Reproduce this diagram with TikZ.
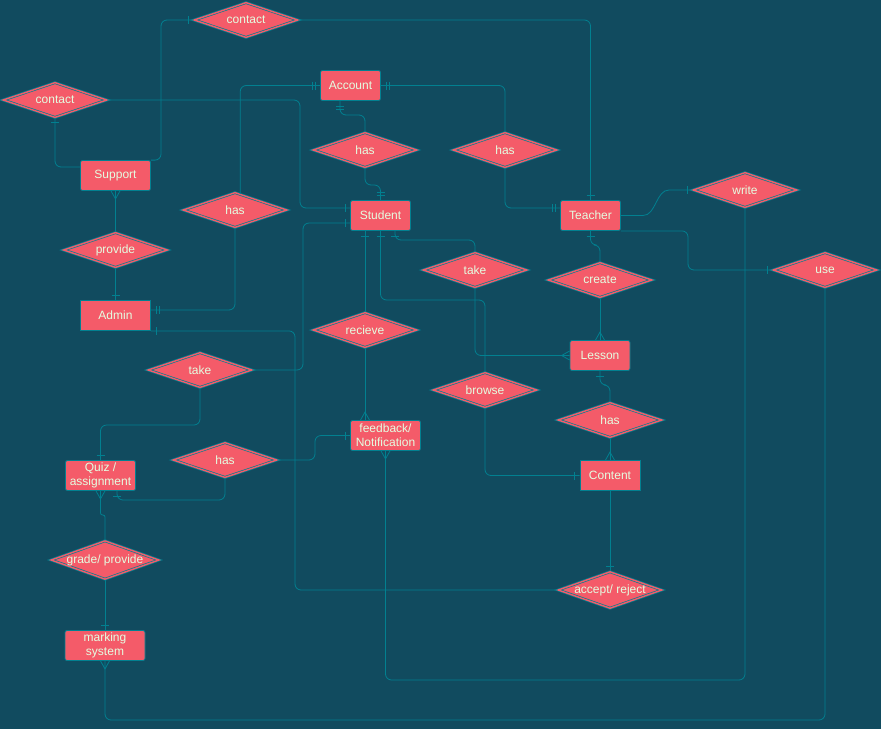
\documentclass[tikz,border=0pt]{standalone}
\usepackage{fontspec}
\setmainfont{Liberation Sans}
\usetikzlibrary{shapes.geometric, decorations.markings}

\definecolor{oceanbg}{HTML}{114B5F}
\definecolor{oceanfill}{HTML}{F45B69}
\definecolor{oceanline}{HTML}{028090}
\definecolor{oceantext}{HTML}{E4FDE1}

\tikzset{
  entity/.style={rectangle, rounded corners=2pt, draw=oceanline, line width=0.8pt, fill=oceanfill,
    text=oceantext, minimum width=60pt, minimum height=30pt, inner sep=2pt, align=center,
    font=\fontsize{12}{14}\selectfont},
  relation/.style={diamond, aspect=2.8, draw=oceanline, line width=0.7pt, double=oceanfill,
    double distance=1.4pt, fill=oceanfill, text=oceantext, minimum width=104pt,
    minimum height=35pt, inner sep=0pt, font=\fontsize{12}{14}\selectfont},
  link/.style={draw=oceanline, line width=0.8pt, rounded corners=6pt},
  tipline/.style={draw=oceanline, line width=0.8pt, sharp corners},
  oneend/.style={postaction={decorate, decoration={markings,
    mark=at position 1 with {\draw[tipline] (-5pt,-4pt) -- (-5pt,4pt);}}}},
  onestart/.style={postaction={decorate, decoration={markings,
    mark=at position 0 with {\draw[tipline] (5pt,-4pt) -- (5pt,4pt);}}}},
  twoend/.style={postaction={decorate, decoration={markings,
    mark=at position 1 with {\draw[tipline] (-5pt,-4pt) -- (-5pt,4pt) (-8pt,-4pt) -- (-8pt,4pt);}}}},
  twostart/.style={postaction={decorate, decoration={markings,
    mark=at position 0 with {\draw[tipline] (5pt,-4pt) -- (5pt,4pt) (8pt,-4pt) -- (8pt,4pt);}}}},
  manyend/.style={postaction={decorate, decoration={markings,
    mark=at position 1 with {\draw[tipline] (0pt,4.5pt) -- (-8pt,0pt) -- (0pt,-4.5pt);}}}},
  manystart/.style={postaction={decorate, decoration={markings,
    mark=at position 0 with {\draw[tipline] (0pt,4.5pt) -- (8pt,0pt) -- (0pt,-4.5pt);}}}}
}

\begin{document}
\begin{tikzpicture}[x=1pt, y=-1pt]
\fill[oceanbg] (0,0) rectangle (881,729);
\useasboundingbox (0,0) rectangle (881,729);
%entities
\node[entity] (account) at (350.5,85.5) {Account};
\node[entity] (student) at (380.5,215.5) {Student};
\node[entity] (teacher) at (590.5,215.5) {Teacher};
\node[entity, minimum width=70pt] (support) at (115.5,175.5) {Support};
\node[entity, minimum width=70pt, rounded corners=0pt] (admin) at (115.5,315.5) {Admin};
\node[entity, minimum width=70pt] (quiz) at (100.5,475.5) {Quiz /\\assignment};
\node[entity, minimum width=70pt] (feedback) at (385.5,435.5) {feedback/\\Notification};
\node[entity] (lesson) at (600,355.5) {Lesson};
\node[entity, rounded corners=0pt] (content) at (610,475.5) {Content};
\node[entity, minimum width=80pt] (marking) at (105,645.5) {marking\\system};
%relations
\node[relation] (contactTop) at (246,20) {contact};
\node[relation] (contactLeft) at (55,100) {contact};
\node[relation] (hasAccStu) at (365,150) {has};
\node[relation] (hasAccTea) at (505,150) {has};
\node[relation] (hasAccAdm) at (235,210) {has};
\node[relation] (provide) at (115.5,250) {provide};
\node[relation] (write) at (745,190) {write};
\node[relation] (use) at (825,270) {use};
\node[relation] (takeLesson) at (475,270) {take};
\node[relation] (create) at (600,280) {create};
\node[relation] (recieve) at (365,330) {recieve};
\node[relation] (browse) at (485,390) {browse};
\node[relation] (hasLesCon) at (610,420) {has};
\node[relation] (accept) at (610,590) {accept/ reject};
\node[relation] (takeQuiz) at (200,370) {take};
\node[relation] (hasQuizFb) at (225,460) {has};
\node[relation] (grade) at (105,560) {grade/ provide};
%support and contact
\draw[link, oneend] (support.north east) -| (161,20) -- (contactTop.west);
\draw[link, oneend] (contactTop.east) -| (teacher.north);
\draw[link, onestart] (contactLeft.south) |- (support.west |- 0,167);
\draw[link, oneend] (contactLeft.east) -| (300,208) -- (student.west |- 0,208);
\draw[link, manystart] (support.south) -- (provide.north);
\draw[link, oneend] (provide.south) -- (admin.north);
%account
\draw[link, twostart] (account.west) -| (hasAccAdm.72);
\draw[link, twoend] (hasAccAdm.south) |- (admin.east |- 0,310);
\draw[link, twostart] (account.south -| 340,0) |- (hasAccStu.north |- 0,115) -- (hasAccStu.north);
\draw[link, twoend] (hasAccStu.south) |- (student.north |- 0,185) -- (student.north);
\draw[link, twostart] (account.east) -| (hasAccTea.north);
\draw[link, twoend] (hasAccTea.south) |- (teacher.west |- 0,208);
%student
\draw[link, onestart] (student.west |- 0,223) -| (303,370) -- (takeQuiz.east);
\draw[link, oneend] (takeQuiz.south) |- (quiz.north |- 0,425) -- (quiz.north);
\draw[link, onestart] (student.south -| recieve.north) -- (recieve.north);
\draw[link, manyend] (recieve.south) -- (feedback.north -| recieve.south);
\draw[link, onestart] (student.south) |- (browse.north |- 0,300) -- (browse.north);
\draw[link, oneend] (browse.south) |- (content.west);
\draw[link, onestart] (student.south -| 395,0) |- (takeLesson.north |- 0,240) -- (takeLesson.north);
\draw[link, manyend] (takeLesson.south) |- (lesson.west);
%quiz and marking
\draw[link, onestart] (quiz.south -| 117,0) |- (hasQuizFb.south |- 0,500) -- (hasQuizFb.south);
\draw[link, oneend] (hasQuizFb.east) -| (315,435.5) -- (feedback.west);
\draw[link, rounded corners=2pt, manystart] (quiz.south) |- (grade.north |- 0,515) -- (grade.north);
\draw[link, oneend] (grade.south) -- (marking.north);
\draw[link, manystart] (marking.south) |- (use.south |- 0,720) -- (use.south);
\draw[link, manystart] (feedback.south) |- (write.south |- 0,680) -- (write.south);
%teacher, lesson and content
\draw[link, onestart] (teacher.south) |- (create.north |- 0,245) -- (create.north);
\draw[link, manyend] (create.south) -- (lesson.north);
\draw[link, onestart] (lesson.south) |- (hasLesCon.north |- 0,385) -- (hasLesCon.north);
\draw[link, manyend] (hasLesCon.south) -- (content.north);
\draw[link, oneend] (content.south) -- (accept.north);
\draw[link, oneend] (accept.west) -| (admin.south east -| 295,0) -- (admin.south east);
\draw[link, sharp corners, oneend] (teacher.east) -- (643,215.5) .. controls (656,215.5) and (656,190) .. (669,190) -- (write.west);
\draw[link, oneend] (teacher.south east) -| (688,270) -- (use.west);
\end{tikzpicture}
\end{document}
